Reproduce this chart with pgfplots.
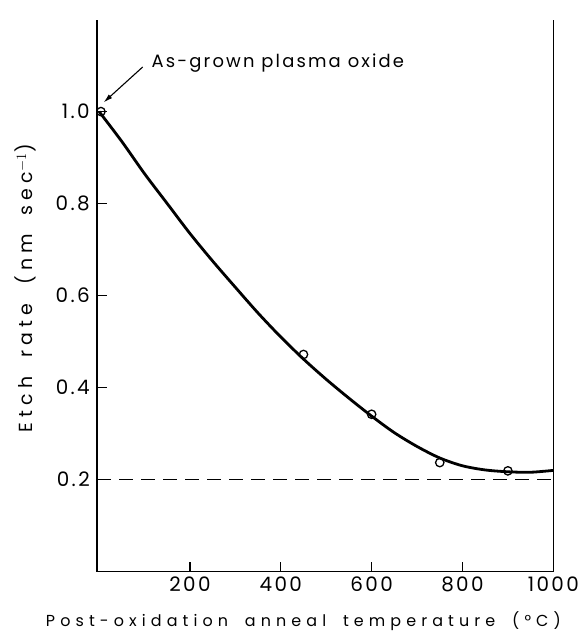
\documentclass[border=0pt]{standalone}
\usepackage{pgfplots}
\pgfplotsset{compat=1.18}
\usetikzlibrary{arrows.meta}
\usepackage{fontspec}
\setmainfont{Poppins}[LetterSpace=12]
\newfontfamily\xlblfont{Poppins}[LetterSpace=32, WordSpace=1.8]
\newfontfamily\ylblfont{Poppins}[LetterSpace=28, WordSpace=1.8]

% fitted etch-rate curve
\pgfplotstableread{
x     y
0     1.000
50    0.935
100   0.865
150   0.800
200   0.735
250   0.675
300   0.618
350   0.562
400   0.510
450   0.462
500   0.418
550   0.377
600   0.338
650   0.302
700   0.272
750   0.247
800   0.230
850   0.221
900   0.217
950   0.216
1000  0.220
}\fitcurve

\begin{document}
\begin{tikzpicture}
\begin{axis}[
    scale only axis,
    width=456bp, height=552bp,
    xmin=-4, xmax=1000,
    ymin=0, ymax=1.2,
    axis x line*=bottom,
    ytick pos=left,
    tick align=inside,
    major tick length=10bp,
    xtick={200,400,600,800,1000},
    ytick={0.2,0.4,0.6,0.8,1.0},
    /pgf/number format/assume math mode=true,
    /pgf/number format/1000 sep={},
    yticklabel style={/pgf/number format/fixed, /pgf/number format/precision=1,
        /pgf/number format/fixed zerofill, xshift=-4bp},
    xticklabel style={yshift=-2bp},
    ticklabel style={font=\fontsize{20}{22}\selectfont},
    axis line style={line width=1.6bp},
    every tick/.style={black, line width=1.4bp},
    xlabel={\xlblfont Post-oxidation anneal temperature (°C)},
    ylabel={\ylblfont Etch rate (nm sec$^{-1}$)},
    every axis x label/.style={at={(axis description cs:0.452,0)}, anchor=center,
        yshift=-50bp, font=\fontsize{16}{18}\selectfont},
    every axis y label/.style={at={(axis description cs:0,0.513)}, anchor=center,
        xshift=-72bp, rotate=90, font=\fontsize{19}{21}\selectfont},
    clip=false,
]
\coordinate (O) at (rel axis cs:0,0);
\addplot[black, line width=1.4bp, dashed, dash pattern=on 14bp off 8bp] coordinates {(-4,0.2) (1000,0.2)};
\addplot[black, line width=2.8bp, smooth, no marks] table {\fitcurve};
\addplot[only marks, mark=o, mark size=4.2bp, mark options={fill=white, line width=1.3bp}, black]
    coordinates {(4,1.0) (450,0.472) (600,0.342) (750,0.237) (900,0.219)};
\draw[-{Latex[length=9bp,width=5bp]}, line width=1.1bp] (axis cs:96,1.097) -- (axis cs:10,1.02);
\node[anchor=west, font=\fontsize{18}{20}\selectfont] at (axis cs:108,1.106) {As-grown plasma oxide};
\end{axis}
\pgfresetboundingbox
\path (O) ++(-97.3bp,-65.4bp) rectangle ++(584bp,637bp);
\end{tikzpicture}
\end{document}
